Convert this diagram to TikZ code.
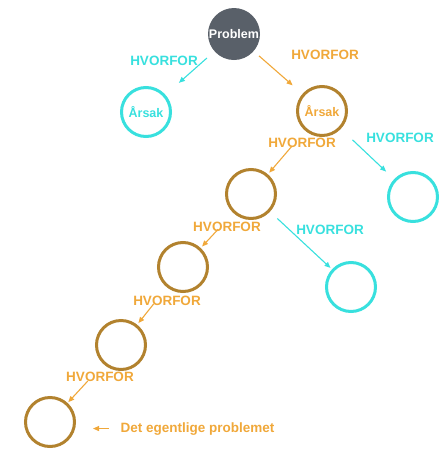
\documentclass[tikz,border=0pt]{standalone}
\usepackage{fontspec}
\setmainfont{Liberation Sans}
\usetikzlibrary{arrows.meta}
\definecolor{whyCyan}{RGB}{56,224,222}
\definecolor{whyOrange}{RGB}{240,168,58}
\definecolor{causeBrown}{RGB}{178,130,46}
\definecolor{problemGray}{RGB}{89,96,105}
\newcommand{\whyText}{HVORFOR}
\newcommand{\causeText}{Årsak}
\newcommand{\ringSize}{49pt}
\newcommand{\ringWidth}{3pt}
\newcommand{\labelFont}{\fontsize{13.5}{16}\selectfont\bfseries}
\newcommand{\ringFont}{\fontsize{12.5}{15}\selectfont\bfseries}

\begin{document}
\begin{tikzpicture}[x=1pt, y=-1pt,
  ring/.style={circle, line width=\ringWidth, minimum size=\ringSize, inner sep=0pt, font=\ringFont},
  cyanring/.style={ring, draw=whyCyan, text=whyCyan},
  brownring/.style={ring, draw=causeBrown, text=whyOrange},
  why/.style={font=\labelFont},
  whyarrow/.style={-{Triangle[length=6pt,width=5pt]}, line width=1.1pt}]
\useasboundingbox (0,0) rectangle (442,451);
         \node (problem) [circle, fill=problemGray, minimum size=52pt, inner sep=0pt,
           text=white, font=\ringFont] at (234,34) {Problem};
         \node (cause1) [cyanring] at (146,112) {\causeText};
         \node (cause2) [brownring] at (322,111) {\causeText};
         \node (ring3) [brownring] at (251,194) {};
         \node (side1) [cyanring] at (413,197) {};
         \node (side2) [cyanring] at (351,287) {};
         \node (ring4) [brownring] at (183,267) {};
         \node (ring5) [brownring] at (121,345) {};
         \node (ring6) [brownring] at (50,422) {};
%labels
\node (why1) [why, text=whyCyan] at (164,61) {\whyText};
\node (why2) [why, text=whyOrange] at (325,55) {\whyText};
\node (why3) [why, text=whyOrange] at (302,143) {\whyText};
\node (why4) [why, text=whyCyan] at (400,138) {\whyText};
\node (why5) [why, text=whyOrange] at (227,227) {\whyText};
\node (why6) [why, text=whyCyan] at (330,230) {\whyText};
\node (why7) [why, text=whyOrange] at (167,301) {\whyText};
\node (why8) [why, text=whyOrange] at (100,377) {\whyText};
\node (root) [font=\labelFont, text=whyOrange, anchor=base west] at (117,432) {Det egentlige problemet};
%arrows
\draw[whyarrow, whyCyan, shorten <=10pt, shorten >=18pt] (problem) -- (cause1);
\draw[whyarrow, whyOrange, shorten <=7pt, shorten >=13pt] (problem) -- (cause2);
\draw[whyarrow, whyOrange, shorten <=20pt, shorten >=2pt] (cause2) -- (ring3);
\draw[whyarrow, whyCyan, shorten <=16pt, shorten >=11pt] (cause2) -- (side1);
\draw[whyarrow, whyCyan, shorten <=10pt, shorten >=2pt] (ring3) -- (side2);
\draw[whyarrow, whyOrange, shorten <=22pt, shorten >=2pt] (ring3) -- (ring4);
\draw[whyarrow, whyOrange, shorten <=21pt, shorten >=2pt] (ring4) -- (ring5);
\draw[whyarrow, whyOrange, shorten <=23pt, shorten >=1pt] (ring5) -- (ring6);
\draw[whyarrow, whyOrange, shorten <=8pt, shorten >=17pt] (root.west) -- (root.west -| ring6.east);
   \end{tikzpicture}
\end{document}
